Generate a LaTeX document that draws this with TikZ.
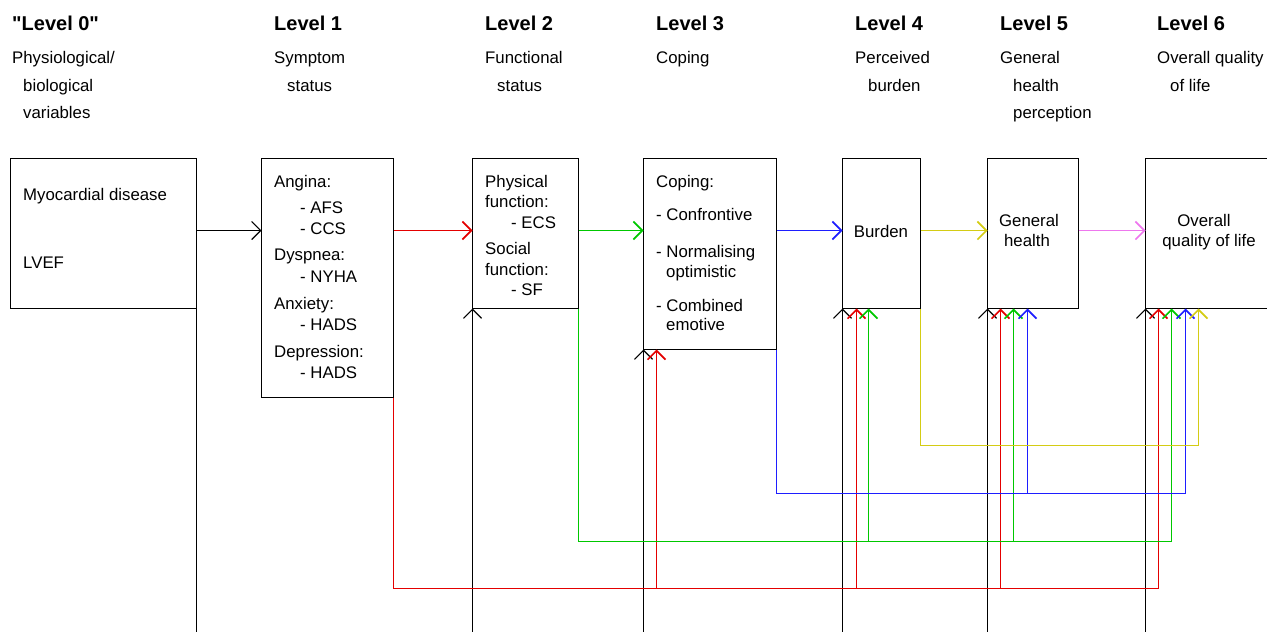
\documentclass[tikz,border=0pt]{standalone}
\usepackage{fontspec}
\setmainfont{Liberation Sans}[Ligatures=TeXOff]
\usetikzlibrary{arrows.meta}
\definecolor{redc}{RGB}{228,0,0}
\definecolor{greenc}{RGB}{0,200,0}
\definecolor{bluec}{RGB}{30,30,255}
\definecolor{yellowc}{RGB}{212,204,20}
\definecolor{pinkc}{RGB}{238,120,238}
\begin{document}
\begin{tikzpicture}[x=1pt,y=-1pt,
  box/.style={draw=black, line width=1.2pt, anchor=north west, inner sep=0pt, outer sep=0pt},
  hd/.style={anchor=base west, inner sep=0pt, font=\bfseries\fontsize{20}{24}\selectfont},
  txt/.style={anchor=base west, inner sep=0pt, font=\fontsize{16.8}{19}\selectfont},
  ctxt/.style={anchor=base, inner sep=0pt, font=\fontsize{16.8}{19}\selectfont},
  arr/.style={-{Straight Barb[length=9pt,width=18pt]}},
  conn/.style={line width=1.6pt},
  kl/.style={line width=1.2pt, draw=black},
  rl/.style={conn, draw=redc},
  gl/.style={conn, draw=greenc},
  bl/.style={conn, draw=bluec},
  yl/.style={conn, draw=yellowc},
  pl/.style={conn, draw=pinkc}]
\useasboundingbox (0,0) rectangle (1267,632);
\clip (0,0) rectangle (1267,632);

% headings
\node[hd] (L0) at (12,30) {"Level 0"};
\node[hd] (L1) at (274,30) {Level 1};
\node[hd] (L2) at (485,30) {Level 2};
\node[hd] (L3) at (656,30) {Level 3};
\node[hd] (L4) at (855,30) {Level 4};
\node[hd] (L5) at (1000,30) {Level 5};
\node[hd] (L6) at (1157,30) {Level 6};

% subtitles
\node[txt] (s0a) at (12,63) {Physiological/};
\node[txt] (s0b) at (23,91) {biological};
\node[txt] (s0c) at (23,118) {variables};
\node[txt] (s1a) at (274,63) {Symptom};
\node[txt] (s1b) at (287,91) {status};
\node[txt] (s2a) at (485,63) {Functional};
\node[txt] (s2b) at (497,91) {status};
\node[txt] (s3a) at (656,63) {Coping};
\node[txt] (s4a) at (855,63) {Perceived};
\node[txt] (s4b) at (868,91) {burden};
\node[txt] (s5a) at (1000,63) {General};
\node[txt] (s5b) at (1013,91) {health};
\node[txt] (s5c) at (1013,118) {perception};
\node[txt] (s6a) at (1157,63) {Overall quality};
\node[txt] (s6b) at (1170,91) {of life};

% boxes
\node[box, minimum width=186pt, minimum height=150pt] (b0) at (10.5,158.5) {};
\node[box, minimum width=132pt, minimum height=239pt] (b1) at (261.5,158.5) {};
\node[box, minimum width=106pt, minimum height=150pt] (b2) at (472.5,158.5) {};
\node[box, minimum width=133pt, minimum height=191pt] (b3) at (643.5,158.5) {};
\node[box, minimum width=78pt, minimum height=150pt] (b4) at (842.5,158.5) {};
\node[box, minimum width=91pt, minimum height=150pt] (b5) at (987.5,158.5) {};
\node[box, minimum width=140pt, minimum height=150pt] (b6) at (1145.5,158.5) {};

% box texts
\node[txt] (t0a) at (23,200) {Myocardial disease};
\node[txt] (t0b) at (23,268) {LVEF};

\node[txt] (t1a) at (274,187) {Angina:};
\node[txt] (t1b) at (300,213) {- AFS};
\node[txt] (t1c) at (300,234) {- CCS};
\node[txt] (t1d) at (274,260) {Dyspnea:};
\node[txt] (t1e) at (300,282) {- NYHA};
\node[txt] (t1f) at (274,309) {Anxiety:};
\node[txt] (t1g) at (300,330) {- HADS};
\node[txt] (t1h) at (274,357) {Depression:};
\node[txt] (t1i) at (300,378) {- HADS};

\node[txt] (t2a) at (485,187) {Physical};
\node[txt] (t2b) at (485,207) {function:};
\node[txt] (t2c) at (511,228) {- ECS};
\node[txt] (t2d) at (485,254) {Social};
\node[txt] (t2e) at (485,275) {function:};
\node[txt] (t2f) at (511,295) {- SF};

\node[txt] (t3a) at (656,187) {Coping:};
\node[txt] (t3b) at (656,220) {- Confrontive};
\node[txt] (t3c) at (656,257) {- Normalising};
\node[txt] (t3d) at (666,277) {optimistic};
\node[txt] (t3e) at (656,311) {- Combined};
\node[txt] (t3f) at (666,330) {emotive};

\node[ctxt] (t4a) at (881,237) {Burden};
\node[ctxt] (t5a) at (1029,226) {General};
\node[ctxt] (t5b) at (1027,246) {health};
\node[ctxt] (t6a) at (1204,226) {Overall};
\node[ctxt] (t6b) at (1209,246) {quality of life};

% helper coordinates
\coordinate (h) at (0,230.5);
\coordinate (ybus) at (0,445.5);
\coordinate (bbus) at (0,493.5);
\coordinate (gbus) at (0,541.5);
\coordinate (rbus) at (0,588.5);
\coordinate (kbus) at (0,660);

\coordinate (r3) at ([xshift=13pt]b3.south west);
\coordinate (r4) at ([xshift=14pt]b4.south west);
\coordinate (r5) at ([xshift=13pt]b5.south west);
\coordinate (r6) at ([xshift=13pt]b6.south west);
\coordinate (g4) at ([xshift=26pt]b4.south west);
\coordinate (g5) at ([xshift=26pt]b5.south west);
\coordinate (g6) at ([xshift=26pt]b6.south west);
\coordinate (u5) at ([xshift=40pt]b5.south west);
\coordinate (u6) at ([xshift=40pt]b6.south west);
\coordinate (y6) at ([xshift=53pt]b6.south west);

% black bus from level 0 (runs below the visible area)
\draw[kl] (b0.south east) |- (b6.south west |- kbus);
\draw[kl,arr] (b2.south west |- kbus) -- (b2.south west);
\draw[kl,arr] (b3.south west |- kbus) -- (b3.south west);
\draw[kl,arr] (b4.south west |- kbus) -- (b4.south west);
\draw[kl,arr] (b5.south west |- kbus) -- (b5.south west);
\draw[kl,arr] (b6.south west |- kbus) -- (b6.south west);

% feedback connectors
\draw[rl,arr] (b1.south east) |- (r6 |- rbus) -- (r6);
\draw[rl,arr] (r3 |- rbus) -- (r3);
\draw[rl,arr] (r4 |- rbus) -- (r4);
\draw[rl,arr] (r5 |- rbus) -- (r5);

\draw[gl,arr] (b2.south east) |- (g6 |- gbus) -- (g6);
\draw[gl,arr] (g4 |- gbus) -- (g4);
\draw[gl,arr] (g5 |- gbus) -- (g5);

\draw[bl,arr] (b3.south east) |- (u6 |- bbus) -- (u6);
\draw[bl,arr] (u5 |- bbus) -- (u5);

\draw[yl,arr] (b4.south east) |- (y6 |- ybus) -- (y6);

% forward connectors
\draw[kl,arr] (b0.east |- h) -- (b1.west |- h);
\draw[rl,arr] (b1.east |- h) -- (b2.west |- h);
\draw[gl,arr] (b2.east |- h) -- (b3.west |- h);
\draw[bl,arr] (b3.east |- h) -- (b4.west |- h);
\draw[yl,arr] (b4.east |- h) -- (b5.west |- h);
\draw[pl,arr] (b5.east |- h) -- (b6.west |- h);
\end{tikzpicture}
\end{document}
